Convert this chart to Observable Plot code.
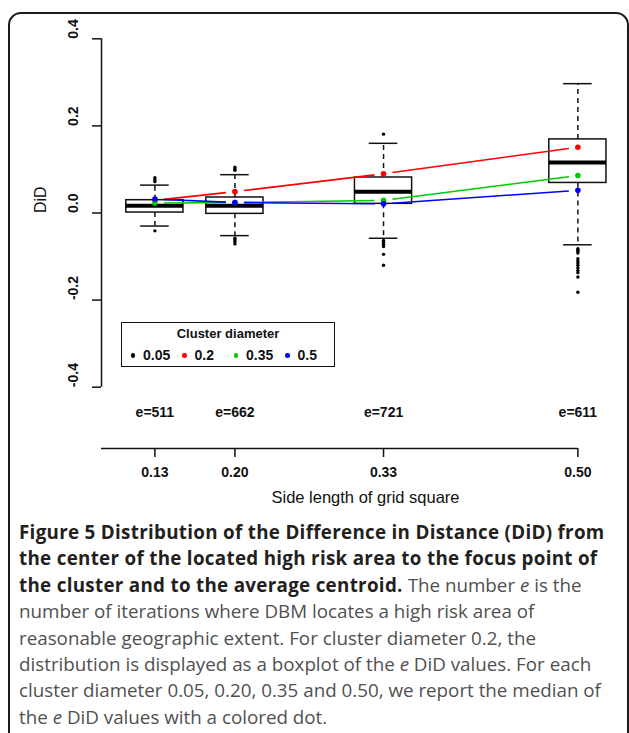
<!DOCTYPE html>
<html><head><meta charset="utf-8">
<script src="https://cdn.jsdelivr.net/npm/d3@7"></script>
<script src="https://cdn.jsdelivr.net/npm/@observablehq/plot@0.6"></script>
<style>
html,body{margin:0;padding:0;background:#fff}
body{width:629px;height:733px;overflow:hidden;position:relative;font-family:"Liberation Sans",Arial,sans-serif}
#frame{position:absolute;left:8px;top:12px;width:617px;height:800px;border:2px solid #1a1a1a;border-radius:13px 13px 0 0}
#chart{position:absolute;left:0;top:0}
#legend{position:absolute;left:121px;top:322px;width:212px;height:43px;border:1.5px solid #111;background:#fff;color:#111}
#legend .title{position:absolute;left:0;right:0;top:3px;text-align:center;font-weight:bold;font-size:13px}
#legend .item{position:absolute;top:24px;height:16px;font-weight:bold;font-size:14px;line-height:16px}
#legend .dot{position:absolute;top:6px;width:4.5px;height:4.5px;border-radius:50%}
#caption{position:absolute;left:19px;top:519px;font-family:"Open Sans",sans-serif;font-size:18.8px;line-height:26.4px;color:#505050;white-space:nowrap}
#caption b{color:#231f20;font-weight:bold;letter-spacing:0.3px}
</style></head>
<body>
<div id="frame"></div>
<div id="chart"></div>
<div id="legend"></div>
<div id="caption"></div>
<script>
// ---- data ----
const gridSizes = [0.13, 0.20, 0.33, 0.50];
const eCounts = [511, 662, 721, 611];
const boxQ1 = [0.001, -0.002, 0.021, 0.069];
const boxMedian = [0.0165, 0.0165, 0.049, 0.116];
const boxQ3 = [0.0294, 0.0356, 0.0815, 0.169];
const whiskerLo = [-0.030, -0.052, -0.058, -0.073];
const whiskerHi = [0.064, 0.088, 0.160, 0.297];
const outliers = [
  [0.072, 0.076, 0.081, -0.041],
  [0.098, 0.101, 0.105, -0.058, -0.062, -0.066, -0.071],
  [0.181, -0.063, -0.067, -0.072, -0.077, -0.095, -0.120],
  [-0.082, -0.085, -0.088, -0.092, -0.105, -0.110, -0.115, -0.120, -0.126, -0.132, -0.137, -0.147, -0.182]
];
const diameters = ["0.05", "0.2", "0.35", "0.5"];
const diameterColors = ["#000000", "#FF0000", "#00CD00", "#0000FF"];
const medianRed = [0.029, 0.049, 0.090, 0.151];
const medianGreen = [0.023, 0.024, 0.029, 0.086];
const medianBlue = [0.032, 0.024, 0.021, 0.052];
const xTicks = [0.13, 0.20, 0.33, 0.50];
const yTicks = [-0.4, -0.2, 0.0, 0.2, 0.4];
const yLabel = "DiD";
const xLabel = "Side length of grid square";
const legendTitle = "Cluster diameter";

// ---- derived tables ----
const boxes = gridSizes.map((g, i) => ({g, q1: boxQ1[i], med: boxMedian[i], q3: boxQ3[i], lo: whiskerLo[i], hi: whiskerHi[i], e: eCounts[i]}));
const outlierPts = outliers.flatMap((arr, i) => arr.map(v => ({g: gridSizes[i], v})));
const series = [
  {color: diameterColors[1], vals: medianRed},
  {color: diameterColors[2], vals: medianGreen},
  {color: diameterColors[3], vals: medianBlue}
];
const medianPts = series.flatMap(s => s.vals.map((v, i) => ({g: gridSizes[i], v, color: s.color})));

const boxHalf = 0.025, capHalf = 0.0125;
const xMin = 0.0833, xMax = 0.5329, yMin = -0.5408, yMax = 0.4;
const common = {
  width: 629, height: 510,
  marginLeft: 101, marginRight: 14, marginTop: 38.3, marginBottom: 62,
  x: {domain: [xMin, xMax]}, y: {domain: [yMin, yMax]},
  style: {fontFamily: '"Liberation Sans", Arial, sans-serif', color: "#111", background: "transparent"}
};

// probe scales to shorten connecting lines (R type="b" gaps)
const probe = Plot.plot({...common, marks: [Plot.frame({stroke: "none"})]});
const sx = probe.scale("x"), sy = probe.scale("y");
const gap = 9;
const segments = [];
for (const s of series) {
  for (let i = 0; i < s.vals.length - 1; i++) {
    const px1 = sx.apply(gridSizes[i]), py1 = sy.apply(s.vals[i]);
    const px2 = sx.apply(gridSizes[i + 1]), py2 = sy.apply(s.vals[i + 1]);
    const L = Math.hypot(px2 - px1, py2 - py1);
    const ux = (px2 - px1) / L, uy = (py2 - py1) / L;
    segments.push({
      x1: sx.invert(px1 + ux * gap), y1: sy.invert(py1 + uy * gap),
      x2: sx.invert(px2 - ux * gap), y2: sy.invert(py2 - uy * gap),
      color: s.color
    });
  }
}

const fmtY = d => d.toFixed(1);
const chart = Plot.plot({
  ...common,
  marks: [
    // axes
    Plot.ruleX([xMin], {y1: d3.min(yTicks), y2: d3.max(yTicks), stroke: "#111", strokeWidth: 1.5}),
    Plot.axisY({ticks: yTicks, tickSize: 9, tickFormat: () => "", label: null, stroke: "#111", strokeWidth: 1.5}),
    Plot.text(yTicks, {y: d => d, text: fmtY, frameAnchor: "left", dx: -28, rotate: -90, fontSize: 14, fontWeight: "bold", fill: "#111"}),
    Plot.text([yLabel], {y: () => d3.mean(yTicks), text: d => d, frameAnchor: "left", dx: -61, rotate: -90, fontSize: 16, fill: "#111"}),
    Plot.ruleY([yMin], {x1: xMin, x2: d3.max(xTicks), stroke: "#111", strokeWidth: 1.5}),
    Plot.axisX({ticks: xTicks, tickSize: 9, tickPadding: 10, tickFormat: d => d.toFixed(2), label: null, fontSize: 14, fontWeight: "bold", stroke: "#111", strokeWidth: 1.5}),
    Plot.text([xLabel], {text: d => d, frameAnchor: "bottom", dy: 54, dx: 7, fontSize: 16.5, fill: "#111"}),
    // e labels
    Plot.text(boxes, {x: "g", text: d => "e=" + d.e, frameAnchor: "bottom", dy: -32, fontSize: 14, fontWeight: "bold", fill: "#111"}),
    // whiskers
    Plot.ruleX(boxes, {x: "g", y1: "q3", y2: "hi", stroke: "#111", strokeWidth: 1.5, strokeDasharray: "5,4"}),
    Plot.ruleX(boxes, {x: "g", y1: "q1", y2: "lo", stroke: "#111", strokeWidth: 1.5, strokeDasharray: "5,4"}),
    Plot.ruleY(boxes, {y: "hi", x1: d => d.g - capHalf, x2: d => d.g + capHalf, stroke: "#111", strokeWidth: 1.5}),
    Plot.ruleY(boxes, {y: "lo", x1: d => d.g - capHalf, x2: d => d.g + capHalf, stroke: "#111", strokeWidth: 1.5}),
    // boxes
    Plot.rect(boxes, {x1: d => d.g - boxHalf, x2: d => d.g + boxHalf, y1: "q1", y2: "q3", fill: "white", stroke: "#111", strokeWidth: 1.5}),
    Plot.ruleY(boxes, {y: "med", x1: d => d.g - boxHalf, x2: d => d.g + boxHalf, stroke: "#000", strokeWidth: 4}),
    // outliers
    Plot.dot(outlierPts, {x: "g", y: "v", r: 1.7, fill: "#000", stroke: "none"}),
    // median lines and dots
    Plot.link(segments, {x1: "x1", y1: "y1", x2: "x2", y2: "y2", stroke: "color", strokeWidth: 1.6}),
    Plot.dot(medianPts, {x: "g", y: "v", r: 2.8, fill: "color", stroke: "none"})
  ]
});
document.getElementById("chart").appendChild(chart);

// legend
const leg = document.getElementById("legend");
const t = document.createElement("div"); t.className = "title"; t.textContent = legendTitle; leg.appendChild(t);
diameters.forEach((d, i) => {
  const it = document.createElement("div"); it.className = "item";
  it.style.left = (5 + i * 51.5) + "px";
  const dot = document.createElement("span"); dot.className = "dot"; dot.style.background = diameterColors[i]; dot.style.left = "3.5px";
  const tx = document.createElement("span"); tx.textContent = d; tx.style.position = "absolute"; tx.style.left = "16px";
  it.appendChild(dot); it.appendChild(tx); leg.appendChild(it);
});

// caption
const captionLines = [
  "<b>Figure 5 Distribution of the Difference in Distance (DiD) from</b>",
  "<b>the center of the located high risk area to the focus point of</b>",
  "<b>the cluster and to the average centroid.</b> The number <i>e</i> is the",
  "number of iterations where DBM locates a high risk area of",
  "reasonable geographic extent. For cluster diameter 0.2, the",
  "distribution is displayed as a boxplot of the <i>e</i> DiD values. For each",
  "cluster diameter 0.05, 0.20, 0.35 and 0.50, we report the median of",
  "the <i>e</i> DiD values with a colored dot."
];
document.getElementById("caption").innerHTML = captionLines.map(l => "<div>" + l + "</div>").join("");
</script>
</body></html>
